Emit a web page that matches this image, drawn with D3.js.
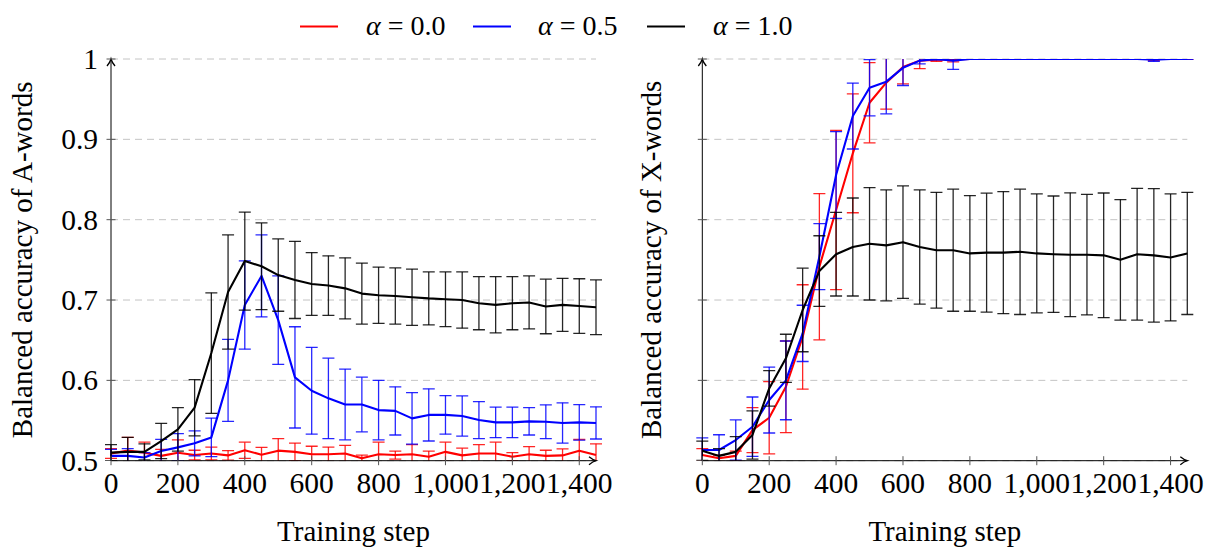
<!DOCTYPE html>
<html>
<head>
<meta charset="utf-8">
<script src="https://cdn.jsdelivr.net/npm/d3@7/dist/d3.min.js"></script>
<style>
  html, body { margin: 0; padding: 0; background: #fff; }
  svg { display: block; }
  text { font-family: "Liberation Serif", "Times New Roman", serif; fill: #000; }
</style>
</head>
<body>
<svg id="chart" width="1205" height="547"></svg>
<script>
// ---------------- data ----------------
const steps = [0,50,100,150,200,250,300,350,400,450,500,550,600,650,700,750,800,850,900,950,1000,1050,1100,1150,1200,1250,1300,1350,1400,1450];
const xTickValues = [0,200,400,600,800,1000,1200,1400];
const yTickValues = [0.5,0.6,0.7,0.8,0.9,1.0];
const yTickLabels = ["0.5","0.6","0.7","0.8","0.9","1"];
const seriesNames = ["\u03B1 = 0.0","\u03B1 = 0.5","\u03B1 = 1.0"];
const seriesColors = ["#ff0000","#0000ff","#000000"];

// A-words (left panel)
const redA = [0.509,0.5125,0.510,0.506,0.510,0.507,0.509,0.5066,0.513,0.5075,0.5125,0.511,0.508,0.508,0.509,0.503,0.508,0.507,0.508,0.505,0.511,0.5066,0.509,0.509,0.505,0.508,0.506,0.5066,0.5124,0.507];
const redAErr = [0.006,0.0165,0.013,0.008,0.016,0.006,0.008,0.006,0.010,0.009,0.015,0.011,0.010,0.009,0.010,0.004,0.015,0.005,0.012,0.007,0.012,0.009,0.011,0.014,0.005,0.0095,0.007,0.008,0.014,0.014];
const blueA = [0.506,0.506,0.504,0.512,0.5166,0.5216,0.529,0.600,0.6938,0.730,0.675,0.6037,0.587,0.5776,0.570,0.570,0.563,0.562,0.5527,0.557,0.557,0.5556,0.5506,0.5477,0.5477,0.549,0.5485,0.547,0.5477,0.547];
const blueAErr = [0.008,0.009,0.006,0.0146,0.017,0.0155,0.024,0.051,0.055,0.051,0.055,0.063,0.054,0.050,0.044,0.034,0.037,0.030,0.032,0.0325,0.024,0.025,0.023,0.019,0.019,0.017,0.021,0.025,0.022,0.020];
const blackA = [0.510,0.511,0.511,0.5245,0.539,0.566,0.634,0.710,0.7485,0.742,0.731,0.725,0.720,0.718,0.7145,0.708,0.706,0.705,0.7035,0.702,0.701,0.700,0.696,0.694,0.696,0.697,0.692,0.694,0.6925,0.691];
const blackAErr = [0.010,0.018,0.010,0.022,0.027,0.035,0.075,0.071,0.061,0.054,0.045,0.048,0.039,0.037,0.038,0.038,0.035,0.035,0.035,0.033,0.034,0.035,0.033,0.035,0.033,0.033,0.034,0.033,0.034,0.034];

// X-words (right panel)
const redX = [0.507,0.503,0.506,0.538,0.5535,0.592,0.654,0.7415,0.812,0.8826,0.9456,0.9705,0.990,0.998,0.999,0.9995,1,1,1,1,1,1,1,1,1,1,1,1,1,1];
const redXErr = [0.008,0.004,0.006,0.028,0.045,0.057,0.065,0.091,0.099,0.074,0.050,0.033,0.021,0.010,0.002,0.003,0,0,0,0,0,0,0,0,0,0,0,0.002,0,0];
const blueX = [0.5133,0.5133,0.5257,0.5423,0.5755,0.600,0.6585,0.754,0.8556,0.929,0.9643,0.9718,0.989,0.998,1,0.998,1,1,1,1,1,1,1,1,1,1,1,0.999,1,1];
const blueXErr = [0.015,0.019,0.025,0.037,0.041,0.049,0.035,0.041,0.054,0.041,0.035,0.040,0.022,0.004,0.001,0.011,0,0,0,0,0,0,0,0,0,0,0,0.002,0,0];
const blackX = [0.5124,0.506,0.511,0.532,0.590,0.6274,0.6876,0.736,0.757,0.766,0.770,0.768,0.772,0.766,0.762,0.762,0.758,0.759,0.759,0.760,0.758,0.757,0.7564,0.7564,0.7556,0.750,0.757,0.7556,0.753,0.758];
const blackXErr = [0.012,0.009,0.019,0.030,0.022,0.030,0.052,0.044,0.052,0.061,0.070,0.069,0.070,0.071,0.072,0.076,0.072,0.074,0.076,0.078,0.074,0.0725,0.077,0.075,0.0776,0.075,0.082,0.083,0.079,0.076];

// ---------------- drawing ----------------
const FONT = "'Liberation Serif', 'Times New Roman', serif";
const svg = d3.select("#chart");
const yScale = d3.scaleLinear().domain([0.5, 1.0]).range([460.7, 59]);
const tickFont = 29.5, labelFont = 29;

function drawPanel(id, xRange, means, errs, yLabel, showYLabels, yLabelX) {
  const x = d3.scaleLinear().domain([0, 1450]).range(xRange);
  const g = svg.append("g");

  // grid
  g.append("g").selectAll("line").data(yTickValues).join("line")
    .attr("x1", x(0)).attr("x2", x(1450))
    .attr("y1", d => yScale(d)).attr("y2", d => yScale(d))
    .attr("stroke", "#c4c4c4").attr("stroke-width", 1)
    .attr("stroke-dasharray", "7,5");

  // clip
  const clipId = "clip" + id;
  svg.append("defs").append("clipPath").attr("id", clipId)
    .append("rect").attr("x", x(0) - 10).attr("y", yScale(1.0))
    .attr("width", x(1450) - x(0) + 20).attr("height", yScale(0.5) - yScale(1.0));

  const data = g.append("g").attr("clip-path", `url(#${clipId})`);
  means.forEach((m, si) => {
    const col = seriesColors[si];
    const e = errs[si];
    const eb = data.append("g");
    const pts = steps.map((s, i) => ({s, m: m[i], e: e[i]}));
    eb.selectAll("line.v").data(pts).join("line").attr("class", "v")
      .attr("x1", d => x(d.s)).attr("x2", d => x(d.s))
      .attr("y1", d => yScale(d.m + d.e)).attr("y2", d => yScale(d.m - d.e))
      .attr("stroke", col).attr("stroke-width", 1.3).attr("stroke-opacity", 0.85);
    ["+", "-"].forEach(sign => {
      eb.selectAll("line.c" + (sign === "+" ? "t" : "b")).data(pts).join("line")
        .attr("class", "c" + (sign === "+" ? "t" : "b"))
        .attr("x1", d => x(d.s) - 6).attr("x2", d => x(d.s) + 6)
        .attr("y1", d => yScale(sign === "+" ? d.m + d.e : d.m - d.e))
        .attr("y2", d => yScale(sign === "+" ? d.m + d.e : d.m - d.e))
        .attr("stroke", col).attr("stroke-width", 1.3).attr("stroke-opacity", 0.85);
    });
    const line = d3.line().x(d => x(d.s)).y(d => yScale(d.m));
    data.append("path").datum(pts).attr("d", line)
      .attr("fill", "none").attr("stroke", col).attr("stroke-width", 2.1)
      .attr("stroke-linejoin", "round");
  });

  // axes
  const x0 = x(0), y0 = yScale(0.5), xEnd = x(1450), yEnd = yScale(1.0);
  const ax = g.append("g").attr("stroke", "#000").attr("fill", "none").attr("stroke-width", 1);
  ax.append("line").attr("x1", x0).attr("x2", xEnd).attr("y1", y0).attr("y2", y0);
  ax.append("line").attr("x1", x0).attr("x2", x0).attr("y1", y0).attr("y2", yEnd);
  ax.append("path").attr("d", `M${xEnd-7},${y0-4} Q${xEnd-3},${y0-0.8} ${xEnd},${y0} Q${xEnd-3},${y0+0.8} ${xEnd-7},${y0+4}`)
    .attr("stroke-width", 1.3);
  ax.append("path").attr("d", `M${x0-4},${yEnd+7} Q${x0-0.8},${yEnd+3} ${x0},${yEnd} Q${x0+0.8},${yEnd+3} ${x0+4},${yEnd+7}`)
    .attr("stroke-width", 1.3);

  // ticks
  g.append("g").selectAll("line").data(xTickValues).join("line")
    .attr("x1", d => x(d)).attr("x2", d => x(d))
    .attr("y1", y0 - 4.5).attr("y2", y0 + 4.5)
    .attr("stroke", "#555").attr("stroke-width", 1);
  g.append("g").selectAll("line").data(yTickValues.slice(1)).join("line")
    .attr("x1", x0 - 4.5).attr("x2", x0 + 4.5)
    .attr("y1", d => yScale(d)).attr("y2", d => yScale(d))
    .attr("stroke", "#555").attr("stroke-width", 1);

  const fmt = d3.format(",");
  g.append("g").selectAll("text").data(xTickValues).join("text")
    .attr("x", d => x(d)).attr("y", 492.5)
    .attr("font-family", FONT)
    .attr("text-anchor", "middle").attr("font-size", tickFont)
    .text(d => fmt(d));

  if (showYLabels) {
    g.append("g").selectAll("text").data(yTickValues).join("text")
      .attr("x", x0 - 13).attr("y", d => yScale(d) + 10)
      .attr("font-family", FONT)
      .attr("text-anchor", "end").attr("font-size", tickFont)
      .text((d, i) => yTickLabels[i]);
  }

  g.append("text").attr("x", (x0 + xEnd) / 2).attr("y", 541)
    .attr("font-family", FONT)
    .attr("text-anchor", "middle").attr("font-size", labelFont).text("Training step");

  g.append("text")
    .attr("transform", `translate(${yLabelX},${(y0 + yEnd) / 2}) rotate(-90)`)
    .attr("font-family", FONT)
    .attr("text-anchor", "middle").attr("font-size", labelFont).text(yLabel);
}

drawPanel("A", [111, 596], [redA, blueA, blackA], [redAErr, blueAErr, blackAErr],
  "Balanced accuracy of A-words", true, 32);
drawPanel("X", [702.3, 1187.3], [redX, blueX, blackX], [redXErr, blueXErr, blackXErr],
  "Balanced accuracy of X-words", false, 661);

// legend
const legendLineX = [300, 473, 647];
const legendTextX = [366, 538, 713];
const lg = svg.append("g");
seriesNames.forEach((name, i) => {
  lg.append("line").attr("x1", legendLineX[i]).attr("x2", legendLineX[i] + 38)
    .attr("y1", 26.5).attr("y2", 26.5)
    .attr("stroke", seriesColors[i]).attr("stroke-width", 2);
  const t = lg.append("text").attr("x", legendTextX[i]).attr("y", 35)
    .attr("font-family", FONT).attr("font-size", 28);
  const parts = name.split(" = ");
  t.append("tspan").attr("font-style", "italic").text(parts[0]);
  t.append("tspan").attr("dx", 7).text("=");
  t.append("tspan").attr("dx", 7).text(parts[1]);
});
</script>
</body>
</html>
